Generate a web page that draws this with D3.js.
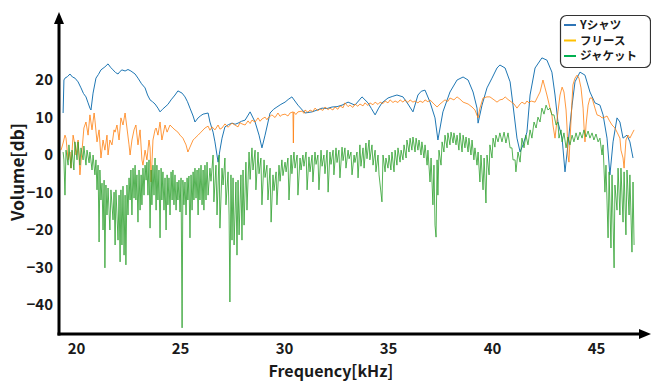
<!DOCTYPE html>
<html>
<head>
<meta charset="utf-8">
<script src="https://cdn.jsdelivr.net/npm/d3@7"></script>
<style>
  body { margin: 0; background: #fff; }
  text { font-family: "Noto Sans CJK JP", "Noto Sans", sans-serif; font-weight: bold; fill: #1a1a1a; }
</style>
</head>
<body>
<svg id="chart" width="651" height="381"></svg>
<script>
// series names, ticks
const seriesNames = ["Yシャツ", "フリース", "ジャケット"];
const xTicks = [20, 25, 30, 35, 40, 45];
const yTicks = [20, 10, 0, -10, -20, -30, -40];

// [kHz, dB]
const shirtData = [
  [19.38, 11.2], [19.42, 20.0], [19.47, 20.5], [19.59, 20.9], [19.71, 21.6], [19.83, 20.8], [19.95, 20.5], [20.10, 19.5], [20.24, 17.9],
  [20.36, 16.4], [20.48, 15.5], [20.58, 13.9], [20.67, 12.5], [20.72, 12.0], [20.82, 16.5], [20.96, 20.5], [21.08, 21.5], [21.20, 22.7],
  [21.39, 23.5], [21.54, 24.3], [21.66, 23.4], [21.78, 22.7], [21.90, 22.0], [22.02, 21.6], [22.12, 22.3], [22.21, 22.7], [22.36, 22.4], [22.50, 22.8], [22.64, 22.4],
  [22.84, 21.6], [22.98, 20.5], [23.15, 19.0], [23.32, 17.9], [23.44, 16.0], [23.56, 14.7], [23.68, 14.2], [23.80, 13.6], [23.94, 12.5], [24.04, 11.5],
  [24.16, 12.2], [24.28, 12.8], [24.42, 13.5], [24.57, 14.7], [24.76, 16.0], [24.90, 17.1], [25.10, 16.5], [25.24, 15.5], [25.36, 14.2], [25.48, 12.5],
  [25.63, 10.4], [25.72, 8.8], [25.87, 9.9], [26.00, 10.5], [26.11, 10.9], [26.35, 11.2], [26.44, 8.8], [26.59, 6.1],
  [26.68, 3.5], [26.83, -1.9], [26.92, 1.3], [27.02, 4.5], [27.16, 7.5], [27.33, 8.1], [27.50, 8.5], [27.65, 8.2], [27.79, 8.5],
  [27.96, 9.0], [28.13, 9.3], [28.37, 11.5], [28.61, 8.8], [28.80, 5.3], [28.94, 1.9], [29.09, 5.3], [29.33, 11.2],
  [29.50, 12.2], [29.66, 12.8], [29.85, 13.5], [30.05, 14.1], [30.20, 14.8], [30.38, 15.5], [30.67, 13.3], [31.01, 11.2], [31.35, 11.5], [31.60, 12.0], [31.83, 12.5],
  [32.07, 12.4], [32.31, 12.8], [32.55, 12.9], [32.79, 13.3], [33.08, 14.1], [33.41, 13.3], [33.75, 15.5], [34.04, 13.9], [34.20, 12.4], [34.38, 10.7],
  [34.55, 12.5], [34.71, 13.9], [35.00, 15.2], [35.20, 15.6], [35.43, 16.0], [35.72, 15.5], [35.96, 13.6], [36.20, 11.5], [36.44, 16.0],
  [36.60, 17.0], [36.78, 17.3], [37.02, 14.1], [37.26, 9.9], [37.40, 4.0], [37.64, 11.5], [37.98, 16.8], [38.32, 20.0],
  [38.61, 20.8], [38.85, 20.0], [39.09, 16.8], [39.28, 12.5], [39.33, 8.5], [39.52, 13.3], [39.76, 17.9],
  [40.00, 20.5], [40.24, 23.2], [40.38, 24.0], [40.63, 23.2], [40.87, 19.5], [41.01, 13.3], [41.20, 4.5],
  [41.35, 0.8], [41.49, 2.7], [41.68, 6.1], [41.83, 16.0], [42.07, 23.2], [42.40, 25.9], [42.64, 25.3],
  [42.88, 22.1], [43.03, 16.0], [43.17, 8.8], [43.37, 4.5], [43.51, -4.5], [43.65, 2.7], [43.85, 13.3],
  [43.99, 19.5], [44.23, 22.1], [44.47, 21.3], [44.71, 16.8], [44.95, 13.9], [45.19, 13.3], [45.34, 10.7],
  [45.53, 4.5], [45.67, -5.3], [45.82, 3.5], [46.01, 9.9], [46.15, 8.8], [46.30, 4.5], [46.49, 5.3],
  [46.63, 3.5], [46.78, -0.8]
];

const fleeceData = [
  [19.28, 1.3], [19.38, 3.2], [19.47, 5.3], [19.52, 4.5], [19.62, -1.3], [19.71, 0.8], [19.76, -3.5],
  [19.86, 5.3], [19.95, 2.7], [20.00, 0.0], [20.10, 4.0], [20.19, -5.3], [20.29, 1.3], [20.38, 7.2],
  [20.48, 8.8], [20.58, 5.3], [20.67, 10.7], [20.77, 6.7], [20.87, 11.2], [20.91, 9.3], [21.01, 3.5],
  [21.11, 6.7], [21.20, -0.8], [21.30, 4.0], [21.39, 1.3], [21.49, 5.3], [21.54, 0.0], [21.63, 4.0],
  [21.73, 2.7], [21.83, 6.7], [21.88, 6.1], [21.97, 8.0], [22.07, 4.0], [22.16, 9.9], [22.26, 8.0],
  [22.36, 11.2], [22.45, 7.2], [22.55, 2.7], [22.60, 0.0], [22.69, 4.0], [22.79, 6.7], [22.88, 8.0],
  [22.98, 2.7], [23.08, 6.7], [23.17, -1.3], [23.22, -2.7], [23.32, 1.3], [23.41, -1.3], [23.51, 4.0],
  [23.56, 1.9], [23.61, -7.2], [23.70, 4.0], [23.80, 6.7], [23.85, 7.2], [23.94, 5.3], [24.04, 8.8],
  [24.13, 4.0], [24.28, 8.0], [24.38, 6.1], [24.52, 8.0], [24.66, 7.2], [24.76, 6.7], [24.90, 6.1],
  [25.00, 5.3], [25.14, 4.5], [25.29, 2.7], [25.38, 0.8], [25.48, 2.1], [25.63, 4.0], [25.72, 4.5],
  [25.87, 5.3], [26.01, 6.1], [26.20, 7.2], [26.35, 7.7], [26.44, 6.6], [26.54, 7.5], [26.68, 6.7],
  [26.83, 8.0], [26.92, 6.9], [27.02, 7.2], [27.16, 8.3], [27.31, 7.4], [27.50, 8.5], [27.64, 8.0],
  [27.79, 7.5], [27.88, 8.6], [27.98, 8.3], [28.13, 8.0], [28.27, 9.1], [28.37, 8.4], [28.46, 9.3],
  [28.61, 8.8], [28.75, 9.9], [28.85, 9.0], [28.94, 9.6], [29.09, 10.1], [29.18, 9.4], [29.23, 9.9],
  [29.42, 10.7], [29.57, 10.0], [29.71, 11.2], [29.81, 10.3], [29.90, 10.7], [30.05, 10.9], [30.19, 10.4],
  [30.29, 11.2], [30.43, 11.5], [30.45, 3.2], [30.47, 11.5], [30.57, 10.8], [30.67, 11.5], [30.87, 11.7],
  [30.96, 11.1], [31.01, 12.0], [31.15, 11.4], [31.25, 12.0], [31.39, 11.6], [31.49, 12.5], [31.63, 11.8],
  [31.73, 12.3], [31.87, 11.9], [31.97, 12.8], [32.12, 12.1], [32.21, 12.5], [32.35, 12.0], [32.45, 12.8],
  [32.59, 12.2], [32.69, 13.1], [32.84, 12.6], [32.93, 13.9], [33.08, 12.9], [33.17, 13.3], [33.31, 12.7],
  [33.41, 13.6], [33.55, 13.0], [33.65, 13.6], [33.80, 13.1], [33.89, 13.9], [34.04, 13.2], [34.13, 13.9],
  [34.28, 13.4], [34.38, 14.1], [34.52, 13.5], [34.62, 14.1], [34.76, 13.7], [34.86, 14.4], [35.00, 13.9],
  [35.10, 14.7], [35.24, 14.0], [35.34, 14.4], [35.48, 14.0], [35.58, 14.7], [35.72, 14.1], [35.82, 14.7],
  [35.96, 14.0], [36.06, 14.7], [36.20, 14.1], [36.30, 14.4], [36.44, 13.9], [36.54, 14.4], [36.68, 14.0],
  [36.78, 14.7], [36.92, 14.2], [37.02, 14.7], [37.21, 13.6], [37.36, 12.8], [37.50, 13.6], [37.74, 14.7],
  [37.88, 14.3], [37.98, 15.2], [38.17, 14.7], [38.32, 15.5], [38.46, 14.9], [38.61, 14.1], [38.85, 13.6],
  [39.04, 12.8], [39.18, 12.0], [39.33, 9.9], [39.42, 12.5], [39.57, 15.2], [39.76, 15.5], [39.90, 15.5],
  [40.10, 14.7], [40.24, 14.1], [40.38, 14.7], [40.53, 14.9], [40.63, 15.5], [40.77, 14.8], [40.87, 14.4],
  [41.06, 13.6], [41.20, 12.5], [41.35, 13.6], [41.44, 14.1], [41.58, 13.6], [41.68, 14.4], [41.78, 13.9],
  [41.88, 14.4], [42.07, 14.1], [42.21, 15.7], [42.31, 16.8], [42.45, 20.0], [42.55, 17.9], [42.64, 16.0],
  [42.79, 12.5], [42.88, 10.7], [42.93, 8.0], [43.03, 4.5], [43.17, 11.5], [43.27, 16.0], [43.37, 18.1],
  [43.46, 16.8], [43.56, 12.0], [43.61, 7.2], [43.65, 0.0], [43.70, -1.9], [43.75, 4.0], [43.80, 9.3],
  [43.85, 14.7], [43.89, 18.7], [43.99, 20.5], [44.09, 21.3], [44.18, 20.5], [44.28, 17.9], [44.38, 12.5],
  [44.42, 8.0], [44.47, 3.5], [44.52, 8.0], [44.62, 13.3], [44.71, 15.2], [44.81, 15.2], [44.95, 12.5],
  [45.05, 10.7], [45.19, 10.4], [45.29, 9.9], [45.43, 10.1], [45.53, 10.4], [45.63, 9.3], [45.77, 8.0],
  [45.91, 7.2], [46.01, 6.1], [46.15, 4.5], [46.20, 1.3], [46.30, -0.8], [46.35, -3.5], [46.44, 4.0],
  [46.54, 5.3], [46.63, 4.5], [46.73, 5.6], [46.83, 6.7]
];

const jacketData = [
  [19.38, 0.8], [19.42, -1.3], [19.47, -10.7], [19.52, 1.3], [19.62, -2.7], [19.66, 2.7], [19.76, -3.5],
  [19.81, 1.3], [19.90, -4.0], [19.95, 3.5], [20.05, -1.3], [20.10, 3.5], [20.19, -2.7], [20.24, 1.9],
  [20.34, -1.3], [20.38, 2.4], [20.48, -2.7], [20.53, 1.3], [20.63, -2.1], [20.67, 0.8], [20.77, -4.0],
  [20.82, 0.0], [20.91, -5.3], [20.96, -1.3], [21.01, -9.3], [21.06, -2.7], [21.11, -23.2], [21.15, -4.0],
  [21.20, -12.0], [21.25, -7.5], [21.30, -20.0], [21.35, -6.7], [21.39, -30.1], [21.44, -8.0], [21.49, -16.0],
  [21.54, -8.8], [21.63, -20.0], [21.68, -9.3], [21.78, -17.3], [21.83, -9.9], [21.88, -24.0], [21.92, -9.3],
  [22.02, -22.7], [22.07, -10.7], [22.12, -28.5], [22.16, -9.3], [22.21, -24.0], [22.26, -8.3], [22.31, -26.7],
  [22.36, -10.7], [22.40, -29.3], [22.45, -8.0], [22.50, -16.0], [22.55, -6.1], [22.60, -12.0], [22.64, -4.0],
  [22.69, -16.0], [22.74, -3.5], [22.79, -11.5], [22.84, -2.7], [22.88, -12.0], [22.93, -5.3], [22.98, -17.9],
  [23.03, -4.0], [23.08, -14.7], [23.13, -5.3], [23.17, -13.3], [23.22, -3.5], [23.27, -10.7], [23.32, -2.7],
  [23.37, -6.7], [23.41, -1.9], [23.46, -10.7], [23.51, -1.3], [23.56, -19.5], [23.61, -4.0], [23.65, -13.3],
  [23.70, -2.7], [23.75, -10.7], [23.80, -0.8], [23.85, -14.7], [23.89, -2.7], [23.94, -12.0], [23.99, -4.0],
  [24.04, -22.1], [24.09, -3.5], [24.13, -12.0], [24.18, -4.5], [24.23, -14.7], [24.28, -6.1], [24.33, -20.0],
  [24.38, -5.3], [24.42, -13.3], [24.47, -6.1], [24.52, -16.0], [24.57, -4.5], [24.62, -12.0], [24.66, -4.0],
  [24.71, -13.3], [24.76, -5.3], [24.81, -14.7], [24.86, -7.2], [24.90, -12.0], [24.95, -6.7], [25.00, -15.2],
  [25.05, -6.1], [25.10, -46.1], [25.14, -6.7], [25.19, -13.3], [25.24, -7.2], [25.29, -16.0], [25.34, -6.1],
  [25.38, -12.0], [25.43, -5.6], [25.48, -22.1], [25.53, -5.3], [25.58, -14.7], [25.63, -4.5], [25.67, -12.0],
  [25.72, -3.5], [25.77, -11.5], [25.82, -4.0], [25.87, -16.0], [25.91, -3.5], [25.96, -12.0], [26.01, -2.7],
  [26.06, -13.3], [26.11, -4.0], [26.15, -14.7], [26.20, -2.7], [26.25, -12.0], [26.30, -1.9], [26.35, -10.7],
  [26.44, -3.5], [26.49, -7.0], [26.59, 0.0], [26.63, -12.5], [26.73, -2.7], [26.78, -16.0], [26.88, 0.0],
  [26.92, -19.5], [27.02, -3.5], [27.07, -8.0], [27.16, -0.8], [27.21, -13.3], [27.31, -4.5], [27.36, -16.0],
  [27.40, -39.2], [27.45, -5.3], [27.50, -22.7], [27.55, -6.1], [27.60, -24.0], [27.69, -7.2], [27.74, -26.7],
  [27.79, -6.7], [27.84, -21.3], [27.93, -5.3], [27.98, -22.7], [28.03, -4.0], [28.08, -18.7], [28.17, -1.9],
  [28.22, -14.7], [28.32, 0.8], [28.37, -6.5], [28.46, 1.9], [28.51, -4.0], [28.61, 1.3], [28.65, -9.3],
  [28.75, 0.8], [28.80, -5.0], [28.89, -0.8], [28.94, -13.3], [29.04, -1.3], [29.09, -6.0], [29.18, -2.7],
  [29.23, -12.0], [29.33, -3.5], [29.38, -17.9], [29.47, -5.3], [29.52, -9.5], [29.62, -4.5], [29.66, -13.3],
  [29.76, -2.7], [29.81, -7.0], [29.90, -1.3], [29.95, -5.5], [30.05, -1.9], [30.10, -4.5], [30.19, -0.8],
  [30.24, -12.0], [30.34, 0.0], [30.38, -5.0], [30.48, 0.8], [30.53, -3.5], [30.63, 0.0], [30.67, -10.7],
  [30.77, -0.8], [30.82, -4.0], [30.91, 0.0], [30.96, -3.0], [31.06, 0.8], [31.11, -9.3], [31.20, -0.5],
  [31.25, -4.5], [31.35, 0.0], [31.39, -7.2], [31.49, 0.8], [31.54, -2.5], [31.63, 0.0], [31.68, -9.3],
  [31.78, 1.3], [31.83, -3.0], [31.92, 0.0], [31.97, -5.0], [32.07, 1.3], [32.12, -9.9], [32.21, 0.8],
  [32.26, -2.5], [32.36, 1.3], [32.40, -5.3], [32.50, 1.9], [32.55, -2.0], [32.64, 1.3], [32.69, -6.1],
  [32.79, 2.1], [32.84, -1.5], [32.93, 1.9], [32.98, -3.5], [33.08, 1.3], [33.13, -1.0], [33.22, 0.8],
  [33.27, -5.3], [33.37, 0.0], [33.41, -2.0], [33.51, 0.8], [33.56, -6.1], [33.65, 2.7], [33.70, -3.0],
  [33.80, 1.9], [33.85, -3.5], [33.94, 3.2], [33.99, -1.0], [34.09, 4.0], [34.13, -1.3], [34.23, 2.7],
  [34.28, -2.7], [34.38, 1.3], [34.42, -4.5], [34.52, 0.0], [34.57, -5.3], [34.71, -12.5], [34.76, 0.0],
  [34.86, -4.5], [34.90, -0.8], [35.00, -3.5], [35.05, 0.0], [35.14, -4.0], [35.19, 0.8], [35.29, -4.5],
  [35.34, 1.3], [35.43, -2.7], [35.48, 1.9], [35.58, -1.9], [35.63, 1.3], [35.72, -1.3], [35.77, 2.7],
  [35.87, -0.8], [35.91, 4.0], [36.01, 0.8], [36.06, 4.5], [36.15, 1.3], [36.20, 4.8], [36.30, 0.8],
  [36.35, 4.5], [36.44, 1.3], [36.49, 4.0], [36.59, 0.0], [36.63, 3.5], [36.73, -0.8], [36.78, 2.7],
  [36.88, -2.7], [36.92, 1.3], [37.02, -7.2], [37.07, -0.8], [37.16, -13.3], [37.21, -2.7], [37.26, -18.7],
  [37.31, -21.9], [37.36, -1.3], [37.40, -10.7], [37.45, 1.3], [37.55, -2.7], [37.60, 3.5], [37.69, 0.8],
  [37.74, 5.3], [37.84, 1.9], [37.88, 5.9], [37.98, 2.7], [38.03, 6.1], [38.13, 3.2], [38.17, 5.9],
  [38.27, 2.7], [38.32, 5.3], [38.41, 1.3], [38.46, 5.9], [38.56, 0.8], [38.61, 5.3], [38.70, 1.9],
  [38.75, 4.8], [38.85, 0.8], [38.89, 4.5], [38.99, 0.0], [39.04, 4.0], [39.13, -1.3], [39.18, 1.9],
  [39.28, -2.7], [39.33, 0.8], [39.42, -7.2], [39.47, 0.0], [39.57, -9.3], [39.62, -0.8], [39.71, -12.8],
  [39.76, 0.0], [39.86, -5.3], [39.90, 2.7], [40.00, -0.8], [40.05, 4.5], [40.14, 2.1], [40.19, 5.3],
  [40.29, 3.5], [40.38, 5.9], [40.48, 3.5], [40.58, 6.1], [40.67, 3.2], [40.77, 5.9], [40.87, 1.9],
  [40.96, 1.9], [41.01, -1.3], [41.11, -1.3], [41.15, -4.5], [41.25, 0.8], [41.35, -1.9], [41.44, 4.5],
  [41.54, 1.9], [41.63, 5.3], [41.73, 2.7], [41.83, 6.7], [41.92, 4.5], [42.02, 8.8], [42.12, 7.2],
  [42.21, 10.1], [42.31, 8.8], [42.40, 12.5], [42.50, 10.9], [42.60, 13.3], [42.69, 12.0], [42.79, 12.5],
  [42.88, 10.7], [42.98, 10.7], [43.08, 8.0], [43.17, 8.8], [43.22, 4.5], [43.32, 6.7], [43.37, 3.5],
  [43.46, 5.9], [43.56, 1.9], [43.65, 4.8], [43.75, 2.7], [43.85, 5.3], [43.94, 3.5], [44.04, 5.9],
  [44.13, 4.0], [44.23, 6.1], [44.33, 4.5], [44.42, 6.7], [44.52, 4.8], [44.62, 6.4], [44.71, 4.5],
  [44.81, 5.9], [44.90, 4.0], [45.00, 5.6], [45.10, 3.5], [45.19, 4.5], [45.29, 0.0], [45.34, 2.7],
  [45.43, -9.9], [45.48, -2.7], [45.58, -22.1], [45.63, -4.5], [45.72, -24.8], [45.77, -5.3], [45.87, -30.1],
  [45.91, -8.0], [46.01, -14.7], [46.06, -3.5], [46.15, -16.0], [46.20, -3.5], [46.30, -17.9], [46.35, -4.5],
  [46.44, -21.3], [46.49, -4.0], [46.59, -16.0], [46.63, -5.3], [46.73, -25.9], [46.78, -7.2], [46.83, -24.0]
];

const width = 651, height = 381;
const lineColors = ["#1f77b4", "#ff7f0e", "#2ca02c"];
const legendColors = ["#2e75b6", "#ffc000", "#00b050"];
const axisLeftX = 59, axisBottomY = 334;

const svg = d3.select("#chart");

const x = d3.scaleLinear().domain([20, 45]).range([76, 596]);
const y = d3.scaleLinear().domain([-40, 20]).range([305, 80]);

const line = d3.line()
  .x(d => x(d[0]))
  .y(d => y(d[1]));

// Series lines, first plotted ends up below
[shirtData, fleeceData, jacketData].forEach((data, i) => {
  svg.append("path")
    .datum(data)
    .attr("d", line)
    .attr("fill", "none")
    .attr("stroke", lineColors[i])
    .attr("stroke-width", i === 0 ? 1 : 0.8)
    .attr("stroke-linejoin", "round");
});

// Tick labels only, no tick marks
const yAxis = svg.append("g")
  .attr("transform", "translate(" + axisLeftX + ",0)")
  .call(d3.axisLeft(y).tickValues(yTicks).tickSize(0).tickPadding(6));
yAxis.select(".domain").remove();
yAxis.selectAll("text").style("font-size", "15px").attr("fill", "#1a1a1a");

const xAxis = svg.append("g")
  .attr("transform", "translate(0," + axisBottomY + ")")
  .call(d3.axisBottom(x).tickValues(xTicks).tickSize(0).tickPadding(9));
xAxis.select(".domain").remove();
xAxis.selectAll("text").style("font-size", "15px").attr("fill", "#1a1a1a");

// Axis lines with arrow heads
svg.append("line")
  .attr("x1", axisLeftX).attr("y1", axisBottomY + 1.5)
  .attr("x2", axisLeftX).attr("y2", 22)
  .attr("stroke", "#000").attr("stroke-width", 3);
svg.append("path")
  .attr("d", "M" + axisLeftX + ",12 L" + (axisLeftX - 5) + ",24 L" + (axisLeftX + 5) + ",24 Z")
  .attr("fill", "#000");

svg.append("line")
  .attr("x1", axisLeftX - 1.5).attr("y1", axisBottomY)
  .attr("x2", 641).attr("y2", axisBottomY)
  .attr("stroke", "#000").attr("stroke-width", 3);
svg.append("path")
  .attr("d", "M651," + axisBottomY + " L639," + (axisBottomY - 5) + " L639," + (axisBottomY + 5) + " Z")
  .attr("fill", "#000");

// Axis titles
svg.append("text")
  .attr("x", 331).attr("y", 377)
  .attr("text-anchor", "middle")
  .style("font-size", "16px")
  .text("Frequency[kHz]");

svg.append("text")
  .attr("transform", "translate(24,172) rotate(-90)")
  .attr("text-anchor", "middle")
  .style("font-size", "17px")
  .text("Volume[db]");

// Legend
const legend = svg.append("g").attr("transform", "translate(560,15)");
legend.append("rect")
  .attr("x", 0.5).attr("y", 0.5)
  .attr("width", 90).attr("height", 52)
  .attr("rx", 6)
  .attr("fill", "#fff")
  .attr("stroke", "#333")
  .attr("stroke-width", 1.2);

seriesNames.forEach((name, i) => {
  const ly = 10 + i * 15.5;
  legend.append("line")
    .attr("x1", 4).attr("x2", 16)
    .attr("y1", ly).attr("y2", ly)
    .attr("stroke", legendColors[i])
    .attr("stroke-width", 2);
  legend.append("text")
    .attr("x", 20).attr("y", ly)
    .attr("dy", "0.35em")
    .style("font-size", "11.5px")
    .text(name);
});
</script>
</body>
</html>
